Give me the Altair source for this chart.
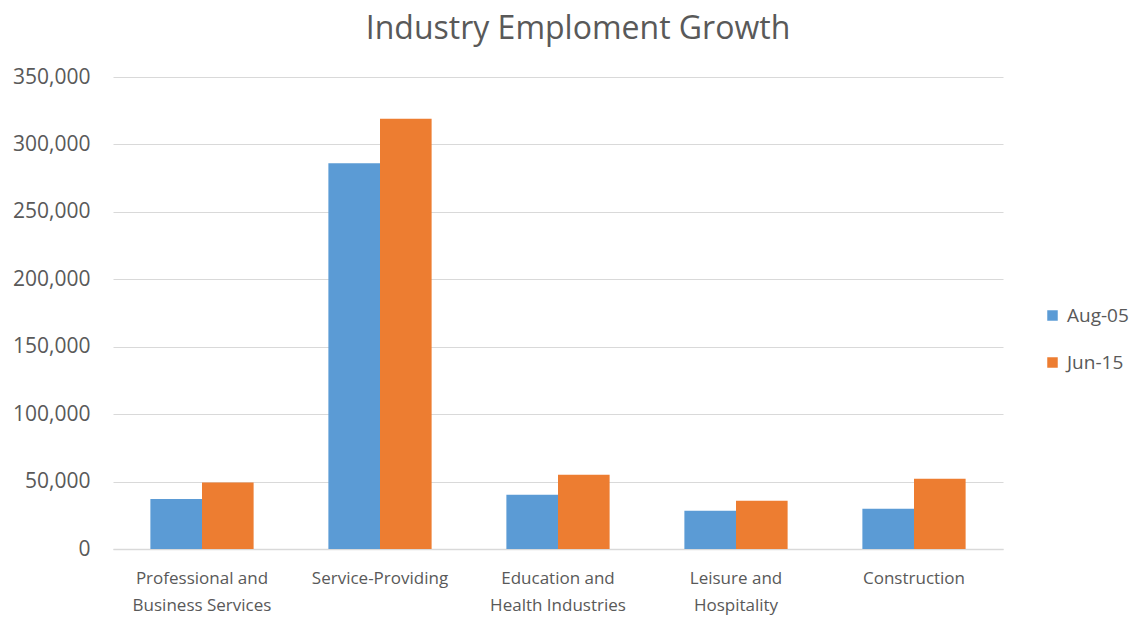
import altair as alt
import pandas as pd

categories = ["Professional and Business Services", "Service-Providing",
              "Education and Health Industries", "Leisure and Hospitality", "Construction"]
label_lines = {
    "Professional and Business Services": ["Professional and", "Business Services"],
    "Service-Providing": ["Service-Providing"],
    "Education and Health Industries": ["Education and", "Health Industries"],
    "Leisure and Hospitality": ["Leisure and", "Hospitality"],
    "Construction": ["Construction"],
}
series = ["Aug-05", "Jun-15"]
aug05 = [37000, 286000, 40200, 28400, 29900]
jun15 = [49400, 319000, 55000, 35800, 52000]
colors = ["#5B9BD5", "#ED7D31"]
y_ticks = [0, 50000, 100000, 150000, 200000, 250000, 300000, 350000]

rows = []
for c, a, j in zip(categories, aug05, jun15):
    rows.append({"Industry": c, "Period": "Aug-05", "Employment": a})
    rows.append({"Industry": c, "Period": "Jun-15", "Employment": j})
df = pd.DataFrame(rows)

label_expr = "{" + ", ".join(
    "'%s': [%s]" % (k, ", ".join("'%s'" % s for s in v)) for k, v in label_lines.items()
) + "}[datum.label]"

font = "Open Sans"
grey = "#595959"

chart = alt.Chart(df).mark_bar().encode(
    x=alt.X("Industry:N", sort=categories, title=None,
            scale=alt.Scale(paddingInner=0.42, paddingOuter=0.21),
            axis=alt.Axis(labelExpr=label_expr, labelAngle=0, labelFontSize=17,
                          labelColor=grey, labelFont=font, labelPadding=21,
                          labelLineHeight=27, ticks=False, domainColor="#D9D9D9",
                          domainWidth=1.5, labelBaseline="top")),
    xOffset=alt.XOffset("Period:N", sort=series, scale=alt.Scale(paddingInner=0, paddingOuter=0)),
    y=alt.Y("Employment:Q", title=None,
            scale=alt.Scale(domain=[0, 350000], nice=False),
            axis=alt.Axis(values=y_ticks, format=",d", labelFontSize=21, labelColor=grey,
                          labelFont=font, labelPadding=23, ticks=False, domain=False,
                          gridColor="#D9D9D9", gridWidth=1.2)),
    color=alt.Color("Period:N", sort=series,
                    scale=alt.Scale(domain=series, range=colors),
                    legend=alt.Legend(title=None, orient="none", legendX=930, legendY=229,
                                      symbolType="square", symbolSize=110,
                                      symbolStrokeWidth=0, labelFontSize=19,
                                      labelColor=grey, labelFont=font, rowPadding=27,
                                      labelOffset=5)),
).properties(
    width=890, height=472,
    title=alt.TitleParams("Industry Emploment Growth", fontSize=32, color=grey,
                          font=font, fontWeight="normal", anchor="middle", dx=20,
                          offset=20),
    padding={"left": 113, "top": 77, "right": 133, "bottom": 69},
    autosize=alt.AutoSizeParams(type="none"),
    background="white",
).configure_view(stroke=None)

chart.save("out.html", embed_options={"renderer": "svg", "actions": False})
